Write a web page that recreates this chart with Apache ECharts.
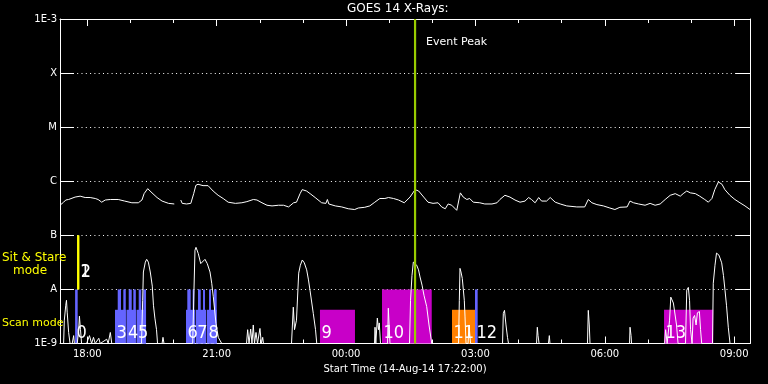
<!DOCTYPE html>
<html><head><meta charset="utf-8">
<script src="https://cdn.jsdelivr.net/npm/echarts@6/dist/echarts.min.js"></script>
<style>html,body{margin:0;padding:0;background:#000}#c{width:768px;height:384px}</style>
</head><body><div id="c"></div>
<script>
// ---- time axis (minutes since 14-Aug-14 00:00 UT) ----
const startMinute = 1042;   // 17:22
const endMinute = 2002;     // 09:22 next day
const hourTicks = [1080,1140,1200,1260,1320,1380,1440,1500,1560,1620,1680,1740,1800,1860,1920,1980];
const majorTicks = [1080,1260,1440,1620,1800,1980];
const majorTickLabels = ['18:00','21:00','00:00','03:00','06:00','09:00'];

// ---- flux axis ----
const fluxLevels = [1e-9,1e-8,1e-7,1e-6,1e-5,1e-4,1e-3];
const fluxLabels = ['1E-9','A','B','C','M','X','1E-3'];

// ---- GOES 14 long channel (1-8 A) ----
const longTime = [1042,1047,1050,1054,1063,1065,1070,1077,1084,1091,1095,1100,1105,1112,1123,1132,1142,1151,1156,1159,1164,1170,1177,1184,1193,1201,1205,1210,1212,1218,1224,1228,1231,1234,1241,1248,1255,1262,1269,1276,1286,1295,1302,1311,1316,1323,1330,1337,1346,1353,1360,1367,1371,1376,1379,1385,1390,1397,1406,1412,1414,1416,1425,1434,1443,1452,1457,1466,1473,1480,1487,1494,1499,1506,1513,1521,1529,1536,1541,1548,1554,1561,1568,1573,1578,1582,1587,1594,1599,1603,1608,1612,1617,1626,1633,1643,1650,1654,1661,1668,1675,1682,1689,1694,1698,1703,1708,1712,1719,1724,1731,1738,1747,1761,1772,1777,1782,1789,1798,1807,1814,1821,1831,1835,1840,1847,1856,1863,1870,1877,1884,1891,1898,1905,1909,1914,1919,1926,1932,1939,1944,1949,1953,1958,1963,1967,1974,1981,1988,1995,2002];
const longFlux = [3.6e-7,4.1e-7,4.5e-7,4.6e-7,5.1e-7,5.5e-7,5.3e-7,5.0e-7,5.0e-7,4.8e-7,4.6e-7,4.1e-7,4.5e-7,4.6e-7,4.6e-7,4.3e-7,4.0e-7,4.0e-7,4.5e-7,5.9e-7,7.3e-7,6.1e-7,5.0e-7,4.3e-7,3.9e-7,3.8e-7,null,4.5e-7,3.9e-7,3.8e-7,3.9e-7,5.9e-7,8.4e-7,8.8e-7,8.3e-7,8.3e-7,6.6e-7,5.5e-7,4.8e-7,4.1e-7,3.9e-7,4.0e-7,4.2e-7,4.6e-7,4.5e-7,4.0e-7,3.6e-7,3.5e-7,3.6e-7,3.6e-7,3.35e-7,4.0e-7,4.1e-7,5.9e-7,7.0e-7,6.6e-7,5.9e-7,5.0e-7,4.0e-7,3.9e-7,4.6e-7,3.8e-7,3.5e-7,3.35e-7,3.1e-7,3.0e-7,3.2e-7,3.3e-7,3.5e-7,4.1e-7,4.8e-7,4.8e-7,5.0e-7,4.8e-7,4.5e-7,4.0e-7,5.1e-7,7.0e-7,6.6e-7,5.1e-7,4.1e-7,3.9e-7,4.0e-7,3.35e-7,3.1e-7,3.8e-7,3.6e-7,2.9e-7,6.1e-7,5.1e-7,4.6e-7,4.8e-7,4.1e-7,4.0e-7,3.8e-7,3.8e-7,4.0e-7,4.6e-7,5.5e-7,5.1e-7,4.5e-7,4.1e-7,4.3e-7,5.0e-7,4.6e-7,4.0e-7,5.0e-7,4.3e-7,4.3e-7,5.0e-7,4.1e-7,3.8e-7,3.5e-7,3.35e-7,3.35e-7,4.6e-7,4.0e-7,3.7e-7,3.5e-7,3.2e-7,3.0e-7,3.3e-7,3.35e-7,4.3e-7,4.0e-7,3.8e-7,3.6e-7,3.9e-7,3.6e-7,3.8e-7,4.6e-7,5.5e-7,5.9e-7,5.3e-7,5.9e-7,6.6e-7,6.1e-7,5.9e-7,5.3e-7,4.6e-7,4.1e-7,4.8e-7,7.0e-7,9.7e-7,8.8e-7,7.0e-7,5.5e-7,4.6e-7,4.0e-7,3.5e-7,3.0e-7];

// ---- GOES 14 short channel (0.5-4 A) ----
const shortTime = [1042,1047,1048,1050,1051,1052,1054,1056,1059,1061,1062,1066,1068,1069,1070.5,1072,1079,1083,1086,1088.6,1091,1096,1098,1107,1109,1112,1114,1155.4,1157,1158,1160.7,1162.6,1164.9,1167.6,1170.4,1172,1174,1176.3,1177.7,1184,1185.3,1186.7,1226.6,1228.4,1229.8,1231.2,1234.4,1237.8,1240.5,1243.7,1246.9,1250.7,1253.1,1255.3,1259,1262.2,1267,1301.5,1303.1,1305,1307.3,1309.1,1310.9,1312.6,1314.7,1316.8,1320.2,1322.1,1324,1325.1,1364.1,1366.6,1368.3,1371,1374.1,1376.4,1379.1,1381.9,1385.2,1387.7,1389.8,1394.4,1397.5,1399.2,1479.6,1480.3,1481.4,1483.5,1485.1,1486.2,1487.9,1497.7,1498.8,1500.2,1501.1,1528.3,1529.7,1531.7,1533.6,1535.9,1538.3,1540.8,1542.9,1545.7,1548.4,1552.2,1555.4,1559.2,1596.5,1597.6,1598.5,1599.9,1601.7,1603.1,1604.5,1605.5,1606.9,1609.7,1611.1,1613.2,1657.7,1658.8,1660.4,1662.5,1664.6,1666,1705,1706.1,1707.1,1708.5,1721.6,1722.8,1723.7,1775.9,1777,1778.4,1779.4,1834.4,1835.1,1836.5,1837.2,1883.2,1884.6,1886.7,1890.1,1891.8,1893.6,1895.4,1897.8,1899.8,1901.9,1912.3,1914,1916.2,1917.9,1919.3,1921.4,1922.8,1924.9,1927,1928.8,1931.6,1933.2,1934.8,1949.8,1950.9,1953.3,1955.4,1956.5,1958.8,1962.6,1965.1,1967.2,1969.3,1971.8,1974.2,2002];
const shortFlux = [1e-9,1e-9,2.7e-9,5.1e-9,6.3e-9,3.8e-9,1.6e-9,1e-9,1e-9,1.4e-9,1e-9,1e-9,1.8e-9,3.2e-9,1.8e-9,1e-9,1e-9,1.4e-9,1e-9,1.3e-9,1e-9,1.25e-9,1e-9,1.2e-9,1e-9,1.6e-9,1e-9,1e-9,6.3e-9,2.1e-8,3.2e-8,3.6e-8,3.2e-8,2.1e-8,1.15e-8,5.1e-9,2.95e-9,1.8e-9,1e-9,1e-9,1.3e-9,1e-9,1e-9,9.7e-9,5.3e-8,6.0e-8,4.6e-8,3.0e-8,3.2e-8,3.6e-8,3.0e-8,2.1e-8,1.3e-8,7.3e-9,2.35e-9,1.3e-9,1e-9,1e-9,1.8e-9,1e-9,1.85e-9,1e-9,2.2e-9,1e-9,1.6e-9,1e-9,1.9e-9,1e-9,1.3e-9,1e-9,1e-9,4.7e-9,1.8e-9,2.7e-9,2.0e-8,2.8e-8,3.5e-8,3.1e-8,2.3e-8,1.5e-8,9.7e-9,3.6e-9,1.8e-9,1e-9,1e-9,2.0e-9,1e-9,2.95e-9,1.8e-9,2.4e-9,1e-9,1e-9,4.5e-9,1.8e-9,1e-9,1e-9,6.3e-9,1.8e-8,3.2e-8,3.0e-8,2.8e-8,2.3e-8,1.7e-8,1.2e-8,7.8e-9,4.8e-9,2.2e-9,1e-9,1e-9,6.3e-9,2.45e-8,2.1e-8,1.6e-8,1.5e-8,6.3e-9,3.1e-9,1e-9,1e-9,2.2e-9,1e-9,1e-9,3.6e-9,4.1e-9,2.2e-9,1.3e-9,1e-9,1e-9,2.0e-9,1.4e-9,1e-9,1e-9,1.4e-9,1e-9,1e-9,4.1e-9,2.2e-9,1e-9,1e-9,2.0e-9,1.4e-9,1e-9,1e-9,1.8e-9,1e-9,2.7e-9,7.2e-9,7.8e-9,5.6e-9,5.9e-9,2.2e-9,1e-9,1e-9,9.7e-9,1.09e-8,6.3e-9,1.8e-9,1e-9,2.95e-9,3.3e-9,2.2e-9,3.7e-9,3.9e-9,1.8e-9,1e-9,1e-9,1.3e-8,2.8e-8,4.7e-8,4.9e-8,4.3e-8,3.1e-8,1.8e-8,9.7e-9,5.1e-9,2.0e-9,1e-9,1e-9];

// ---- IRIS observations ----
const obsIds   = ['0','1','2','3','4','5','6','7','8','9','10','11','12','13'];
const obsMode  = ['scan','sit','sit','scan','scan','scan','scan','scan','scan','scan','scan','scan','scan','scan'];
const obsKind  = ['rasterA','sitStare','sitStare','rasterA','rasterA','rasterA','rasterA','rasterA','rasterA','rasterB','rasterB','rasterC','rasterA','rasterB'];
const obsStart = [1063,1065.7,1066.7,1118.5,1134.5,1148.5,1217.3,1230.8,1246.5,1403.7,1490,1587.4,1619.4,1882.4];
const obsEnd   = [1066.6,1068.5,1069,1133.5,1147.5,1161.7,1229.8,1245.5,1260,1452.4,1559.2,1619.4,1623.1,1950.9];
const obsLow   = [1e-9,1e-8,1e-8,1e-9,1e-9,1e-9,1e-9,1e-9,1e-9,1e-9,1e-9,1e-9,1e-9,1e-9];
const obsHigh  = [1e-8,1e-7,1e-7,4.2e-9,4.2e-9,4.2e-9,4.2e-9,4.2e-9,4.2e-9,4.2e-9,1e-8,4.2e-9,1e-8,4.2e-9];
// raster step windows inside scans 3-8
const stepStart = [1122.3,1130.1,1137.6,1144,1151.5,1157.9,1219.1,1226.6,1234,1241,1249.3,1256.3];
const stepEnd   = [1126.9,1133.5,1141.8,1147.5,1155.1,1161.7,1223.8,1228.8,1237.8,1243.7,1252.1,1260];
const stepLow = 1e-9, stepHigh = 1e-8;

const eventPeakMinute = 1536;

// ---- styles ----
const kindColor = {rasterA:'#6464ff', sitStare:'#ffff00', rasterB:'#c800c8', rasterC:'#ff8000'};
const labelStyle = {scan:{dx:1.5, dy:-10}, sit:{dx:3, dy:-17}};
const FONT = 'DejaVu Sans';
const LBLFONT = "'Liberation Sans Narrow','DejaVu Sans Condensed','DejaVu Sans',sans-serif";

const obsData = obsIds.map((id,i)=>[obsStart[i],obsEnd[i],obsLow[i],obsHigh[i]]);
const stepData = stepStart.map((s,i)=>[s,stepEnd[i],stepLow,stepHigh]);

function rectFor(api){
  const p0 = api.coord([api.value(0), api.value(3)]);
  const p1 = api.coord([api.value(1), api.value(2)]);
  return {x:p0[0], y:p0[1], width:p1[0]-p0[0], height:p1[1]-p0[1]};
}
function fluxLabel(v){
  const e = Math.round(Math.log10(v));
  const i = fluxLevels.findIndex(f=>Math.round(Math.log10(f))===e);
  return i>=0 ? fluxLabels[i] : '';
}

const chart = echarts.init(document.getElementById('c'), null, {renderer:'canvas'});
const axisCommon = {type:'value', min:startMinute, max:endMinute, splitLine:{show:false}};
chart.setOption({
  backgroundColor:'#000',
  animation:false,
  title:{text:'GOES 14 X-Rays:', left:347, top:3, padding:0,
    textStyle:{color:'#fff', fontFamily:FONT, fontSize:12, fontWeight:'normal'}},
  grid:{left:60, right:18, top:19, bottom:40.5, containLabel:false},
  xAxis:[
    Object.assign({}, axisCommon, {position:'bottom',
      name:'Start Time (14-Aug-14 17:22:00)', nameLocation:'middle', nameGap:18,
      nameTextStyle:{color:'#fff', fontFamily:FONT, fontSize:10},
      axisLine:{show:true, lineStyle:{color:'#fff', width:1}},
      axisTick:{show:true, inside:true, length:7, customValues:majorTicks, lineStyle:{color:'#fff'}},
      axisLabel:{show:true, customValues:majorTicks, margin:6, color:'#fff', fontFamily:FONT, fontSize:10,
        formatter:v=>majorTickLabels[majorTicks.indexOf(v)]}}),
    Object.assign({}, axisCommon, {position:'bottom',
      axisLine:{show:false}, axisLabel:{show:false},
      axisTick:{show:true, inside:true, length:4, customValues:hourTicks, lineStyle:{color:'#fff'}}}),
    Object.assign({}, axisCommon, {position:'top',
      axisLine:{show:true, lineStyle:{color:'#fff', width:1}}, axisLabel:{show:false},
      axisTick:{show:true, inside:true, length:7, customValues:majorTicks, lineStyle:{color:'#fff'}}}),
    Object.assign({}, axisCommon, {position:'top',
      axisLine:{show:false}, axisLabel:{show:false},
      axisTick:{show:true, inside:true, length:4, customValues:hourTicks, lineStyle:{color:'#fff'}}})
  ],
  yAxis:[
    {type:'log', logBase:10, min:1e-9, max:1e-3, splitNumber:6, position:'left',
      axisLine:{show:true, lineStyle:{color:'#fff', width:1}},
      axisTick:{show:true, inside:true, length:14, lineStyle:{color:'#fff'}},
      axisLabel:{color:'#fff', fontFamily:FONT, fontSize:10, margin:3, formatter:fluxLabel},
      splitLine:{show:true, lineStyle:{color:'#fff', width:1, type:[1,3.3]}}},
    {type:'log', logBase:10, min:1e-9, max:1e-3, splitNumber:6, position:'right',
      axisLine:{show:true, lineStyle:{color:'#fff', width:1}},
      axisTick:{show:true, inside:true, length:14, lineStyle:{color:'#fff'}},
      axisLabel:{show:false}, splitLine:{show:false}}
  ],
  graphic:[
    {type:'text', x:2, y:258, z:100, style:{text:'Sit & Stare', fill:'#ffff00', fontFamily:FONT, fontSize:12, verticalAlign:'middle'}},
    {type:'text', x:13, y:271, z:100, style:{text:'mode', fill:'#ffff00', fontFamily:FONT, fontSize:12, verticalAlign:'middle'}},
    {type:'text', x:2, y:323.5, z:100, style:{text:'Scan mode', fill:'#ffff00', fontFamily:FONT, fontSize:11, verticalAlign:'middle'}}
  ],
  series:[
    {type:'custom', name:'Raster steps', xAxisIndex:0, yAxisIndex:0, z:1, data:stepData,
      renderItem:(params, api)=>({type:'rect', shape:rectFor(api), style:{fill:kindColor.rasterA}})},
    {type:'custom', name:'Observations', xAxisIndex:0, yAxisIndex:0, z:2, data:obsData,
      renderItem:(params, api)=>{
        const i = params.dataIndex;
        const r = rectFor(api);
        const ls = labelStyle[obsMode[i]];
        return {type:'group', children:[
          {type:'rect', shape:r, style:{fill:kindColor[obsKind[i]]}},
          {type:'text', x:r.x+ls.dx, y:r.y+r.height+ls.dy, z2:10,
            style:{text:obsIds[i], fill:'#fff', fontFamily:LBLFONT, fontSize:18, verticalAlign:'middle', align:'left'}}
        ]};
      }},
    {type:'line', name:'GOES long', xAxisIndex:0, yAxisIndex:0, z:3, showSymbol:false, symbol:'none',
      connectNulls:false, lineStyle:{color:'#fff', width:1},
      data:longTime.map((t,i)=>[t,longFlux[i]])},
    {type:'line', name:'GOES short', xAxisIndex:0, yAxisIndex:0, z:3, showSymbol:false, symbol:'none',
      lineStyle:{color:'#fff', width:1},
      data:shortTime.map((t,i)=>[t,shortFlux[i]])},
    {type:'custom', name:'Event Peak', xAxisIndex:0, yAxisIndex:0, z:5, data:[[eventPeakMinute, 1e-3]],
      renderItem:(params, api)=>{
        const top = api.coord([api.value(0), 1e-3]);
        const bot = api.coord([api.value(0), 1e-9]);
        return {type:'group', children:[
          {type:'line', shape:{x1:top[0], y1:top[1], x2:bot[0], y2:bot[1]}, style:{stroke:'#99cc00', lineWidth:2.2}},
          {type:'text', x:top[0]+11, y:top[1]+23.5,
            style:{text:'Event Peak', fill:'#fff', fontFamily:FONT, fontSize:11, verticalAlign:'middle'}}
        ]};
      }}
  ]
});
</script></body></html>
